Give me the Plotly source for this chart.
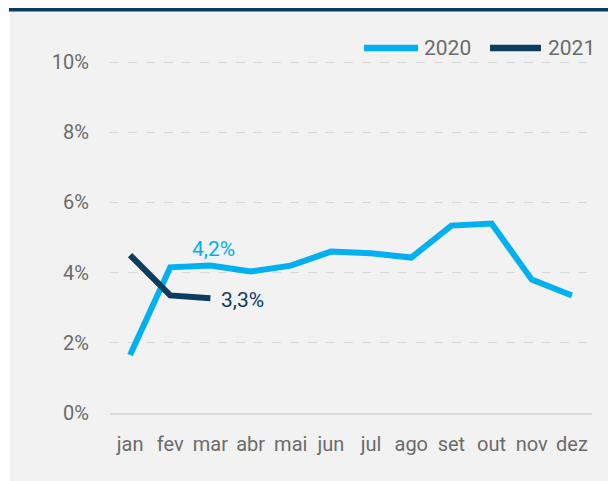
import plotly.graph_objects as go

months = ["jan", "fev", "mar", "abr", "mai", "jun", "jul", "ago", "set", "out", "nov", "dez"]
y2020 = [1.65, 4.15, 4.2, 4.03, 4.2, 4.6, 4.55, 4.43, 5.34, 5.4, 3.8, 3.35]
y2021 = [4.5, 3.35, 3.27]
label_2020_idx = 2
label_2020_text = "4,2%"
label_2021_text = "3,3%"
yticks = [0, 2, 4, 6, 8, 10]
yticklabels = ["0%", "2%", "4%", "6%", "8%", "10%"]
series_names = ["2020", "2021"]

C2020 = "#00b0f0"
C2021 = "#0b3d5f"
FONT = "Roboto"
GREY = "#6b6b6b"
FS = 20

fig = go.Figure()
fig.add_trace(go.Scatter(x=months, y=y2020, mode="lines", name=series_names[0],
                         line=dict(color=C2020, width=6), showlegend=False))
fig.add_trace(go.Scatter(x=months[:len(y2021)], y=y2021, mode="lines", name=series_names[1],
                         line=dict(color=C2021, width=6), showlegend=False))

fig.add_annotation(x=months[label_2020_idx], y=y2020[label_2020_idx], text=label_2020_text,
                   showarrow=False, yshift=17, xshift=3,
                   font=dict(family=FONT, size=FS + 1, color=C2020))
fig.add_annotation(x=months[len(y2021) - 1], y=y2021[-1], text=label_2021_text,
                   showarrow=False, xanchor="center", xshift=32, yshift=-2,
                   font=dict(family=FONT, size=FS + 1, color=C2021))

L, R, T, B = 110, 16, 61, 68
W, H = 608, 481
pw, ph = W - L - R, H - T - B

def px(x):
    return (x - L) / pw

def py(y):
    return (H - B - y) / ph

fig.add_shape(type="rect", xref="paper", yref="paper", x0=px(10), x1=px(612), y0=py(485), y1=py(11),
              fillcolor="#f2f2f2", line=dict(width=0), layer="below")
fig.add_shape(type="rect", xref="paper", yref="paper", x0=px(9), x1=px(612), y0=py(11.5), y1=py(8),
              fillcolor="#0b3d5f", line=dict(width=0), layer="below")

# custom legend
leg_y = py(48)
for (lx0, lx1, tx), name, col in zip([(364, 418, 422), (490, 541, 546)], series_names, [C2020, C2021]):
    fig.add_shape(type="line", xref="paper", yref="paper", x0=px(lx0), x1=px(lx1), y0=leg_y, y1=leg_y,
                  line=dict(color=col, width=6.5))
    fig.add_annotation(xref="paper", yref="paper", x=px(tx), y=leg_y, text=name, showarrow=False,
                       xanchor="left", yanchor="middle",
                       font=dict(family=FONT, size=FS + 1, color=GREY))

fig.update_layout(
    width=W, height=H,
    margin=dict(l=L, r=R, t=T, b=B, pad=0),
    paper_bgcolor="white", plot_bgcolor="rgba(0,0,0,0)",
    font=dict(family=FONT, size=FS, color=GREY),
    showlegend=False,
)
fig.update_xaxes(showgrid=False, showline=True, linecolor="#d9d9d9", linewidth=1.5,
                 ticks="", ticklabelstandoff=12, range=[-0.5, 11.5],
                 tickfont=dict(family=FONT, size=FS, color=GREY))
fig.update_yaxes(range=[0, 10.03], tickmode="array", tickvals=yticks, ticktext=yticklabels,
                 showgrid=True, gridcolor="#d9d9d9", griddash="dash", gridwidth=1, zeroline=False,
                 ticks="", ticklabelstandoff=20,
                 tickfont=dict(family=FONT, size=FS, color=GREY))

fig.write_html("out.html")
